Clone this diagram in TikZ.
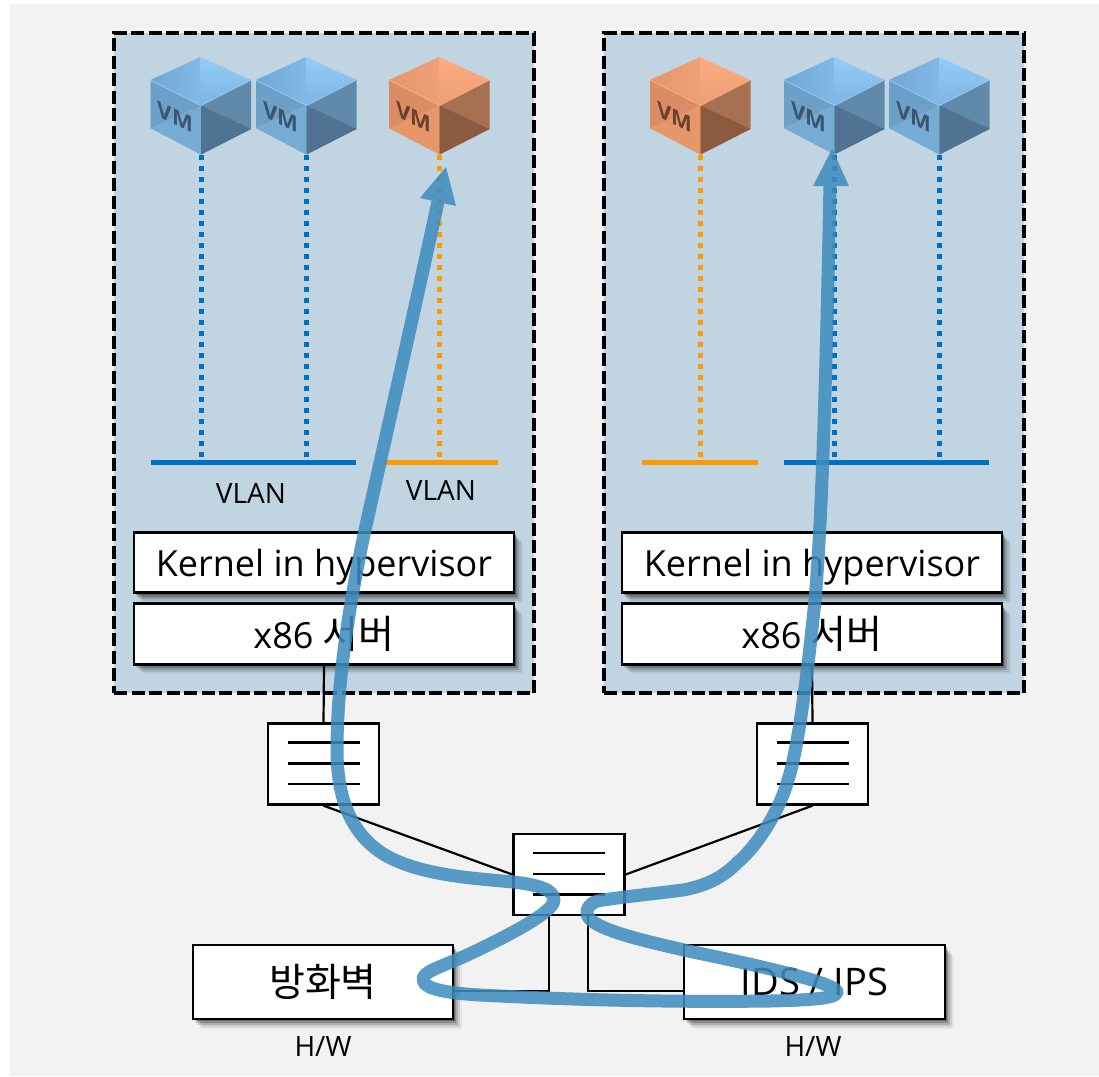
\documentclass[tikz,border=0pt]{standalone}
\usepackage{fontspec}
\setmainfont{Open Sans}
\newfontfamily\krfont{Noto Sans CJK KR}
\usetikzlibrary{shadows}
\definecolor{pagegray}{RGB}{242,242,242}
\definecolor{panelblue}{RGB}{193,212,225}
\definecolor{vlanblue}{RGB}{0,112,192}
\definecolor{vlanorange}{RGB}{255,153,0}
\definecolor{flowblue}{RGB}{62,140,190}
\definecolor{bTL}{RGB}{112,166,210}\definecolor{bTLb}{RGB}{130,185,232}\definecolor{bTR}{RGB}{148,204,248}\definecolor{bTRb}{RGB}{125,180,225}
\definecolor{bLU}{RGB}{108,160,200}\definecolor{bLL}{RGB}{118,172,212}
\definecolor{bRU}{RGB}{97,137,170}\definecolor{bRL}{RGB}{80,115,145}
\definecolor{bTX}{RGB}{60,85,110}
\definecolor{oTL}{RGB}{228,150,110}\definecolor{oTLb}{RGB}{240,160,118}\definecolor{oTR}{RGB}{252,172,128}\definecolor{oTRb}{RGB}{238,158,116}
\definecolor{oLU}{RGB}{220,140,100}\definecolor{oLL}{RGB}{230,150,105}
\definecolor{oRU}{RGB}{168,112,82}\definecolor{oRL}{RGB}{140,90,65}
\definecolor{oTX}{RGB}{105,65,45}
\tikzset{
  softshadow/.style={
    general shadow={shadow xshift=1.5pt,shadow yshift=-2pt,fill=black,fill opacity=.24,draw=none},
    general shadow={shadow xshift=3pt,shadow yshift=-4pt,fill=black,fill opacity=.20,draw=none},
    general shadow={shadow xshift=5pt,shadow yshift=-6pt,fill=black,fill opacity=.15,draw=none},
    general shadow={shadow xshift=7pt,shadow yshift=-8pt,fill=black,fill opacity=.10,draw=none},
    general shadow={shadow xshift=9pt,shadow yshift=-10pt,fill=black,fill opacity=.05,draw=none}},
  hostpanel/.style={draw=black,fill=panelblue,line width=3.8pt,dash pattern=on 13pt off 4.5pt,minimum width=420pt,minimum height=660pt,inner sep=0pt},
  layerbox/.style={draw=black,fill=white,line width=2.8pt,minimum width=380pt,minimum height=60.5pt,inner sep=0pt,font=\fontsize{36}{40}\selectfont,softshadow},
  hwbox/.style={draw=black,fill=white,line width=2.8pt,minimum height=74pt,inner sep=0pt,font=\fontsize{38}{44}\selectfont,softshadow},
  switchbox/.style={draw=black,fill=white,line width=2.3pt,minimum width=111pt,minimum height=81pt,inner sep=0pt},
  wire/.style={draw=black,line width=2.2pt},
  bars/.style={draw=black,line width=2.2pt},
  vlan/.style={line width=5pt},
  dots/.style={line width=5pt,dash pattern=on 5pt off 6pt},
  caption/.style={font=\fontsize{28}{32}\selectfont,inner sep=0pt},
  flow/.style={draw=flowblue,line width=13pt,line join=round},
  flowhead/.style={fill=flowblue,draw=none}
}
\newcommand{\vmcube}[4]{% x, y (top vertex), colour prefix, name
  \begin{scope}[shift={(#1,#2)}]
    \shade[left color=#3TL,right color=#3TLb] (0,0) -- (-50,23) -- (0.5,48.5) -- cycle;
    \shade[top color=#3TR,bottom color=#3TRb] (0,0) -- (50.5,23) -- (0.5,48.5) -- cycle;
    \fill[#3LU] (-50,23) -- (0.5,48.5) -- (0.5,97.5) -- (-50,71) -- cycle;
    \fill[#3LL] (-50,71) -- (0.5,48.5) -- (0.5,97.5) -- cycle;
    \fill[#3RU] (50.5,23) -- (0.5,48.5) -- (0.5,97.5) -- (50.5,72) -- cycle;
    \fill[#3RL] (50.5,72) -- (0.5,48.5) -- (0.5,97.5) -- cycle;
    \draw[#3TR,line width=.8pt] (-50,23) -- (0.5,48.5) -- (50.5,23);
    \node[yslant=-0.47,transform shape,text=#3TX,font=\fontsize{22}{24}\selectfont\bfseries,inner sep=0pt] (#4txt) at (-25,60) {VM};
    \coordinate (#4) at (0.5,97.5);
  \end{scope}}
\begin{document}
\begin{tikzpicture}[x=1pt,y=-1pt]
\useasboundingbox (0,0) rectangle (1099,1076);
\fill[white] (0,0) rectangle (1099,1076);
\fill[pagegray] (10,4) rectangle (1099,1076);
% panels
\node[hostpanel] (panelL) at (324,363) {};
\node[hostpanel] (panelR) at (814,363) {};
% cubes
\vmcube{200.5}{57}{b}{vma}
\vmcube{306}{57}{b}{vmb}
\vmcube{439}{57}{o}{vmc}
\vmcube{700}{57}{o}{vmd}
\vmcube{834}{57}{b}{vme}
\vmcube{939}{57}{b}{vmf}
% VLAN bars
\coordinate (vl1a) at (151,462); \coordinate (vl1b) at (356,462);
\coordinate (vl2a) at (384,462); \coordinate (vl2b) at (498,462);
\coordinate (vr1a) at (642,462); \coordinate (vr1b) at (758,462);
\coordinate (vr2a) at (784,462); \coordinate (vr2b) at (989,462);
\draw[vlan,vlanblue] (vl1a) -- (vl1b);
\draw[vlan,vlanorange] (vl2a) -- (vl2b);
\draw[vlan,vlanorange] (vr1a) -- (vr1b);
\draw[vlan,vlanblue] (vr2a) -- (vr2b);
\draw[dots,vlanblue] (vma) -- (vma |- vl1a);
\draw[dots,vlanblue] (vmb) -- (vmb |- vl1a);
\draw[dots,vlanorange] (vmc) -- (vmc |- vl2a);
\draw[dots,vlanorange] (vmd) -- (vmd |- vr1a);
\draw[dots,vlanblue] (vme) -- (vme |- vr2a);
\draw[dots,vlanblue] (vmf) -- (vmf |- vr2a);
\node[caption] (vlanA) at (251,493) {VLAN};
\node[caption] (vlanB) at (441,490) {VLAN};
% layers
\node[layerbox] (kernelL) at (324,562.5) {\raisebox{-13.5pt}[0pt][0pt]{Kernel in hypervisor}};
\node[layerbox] (serverL) at (324,634) {\raisebox{-14pt}[0pt][0pt]{x86 {\krfont\fontsize{39}{44}\selectfont 서버}}};
\node[layerbox] (kernelR) at (812,562.5) {\raisebox{-13.5pt}[0pt][0pt]{Kernel in hypervisor}};
\node[layerbox] (serverR) at (812,634) {\raisebox{-14pt}[0pt][0pt]{x86 {\krfont\fontsize{39}{44}\selectfont 서버}}};
% switches
\node[switchbox] (swL) at (323.5,764) {};
\node[switchbox] (swR) at (812.5,764) {};
\node[switchbox] (swC) at (569,874.5) {};
\foreach \s in {swL,swR,swC}{
  \foreach \d in {-21.5,-0.5,20}{
    \draw[bars] ([shift={(-36pt,-\d pt)}]\s.center) -- ([shift={(36pt,-\d pt)}]\s.center);
  }
}
% hardware
\node[hwbox,minimum width=260pt] (fw) at (323,982) {\krfont\fontsize{39}{44}\selectfont 방화벽};
\node[hwbox,minimum width=261pt] (ids) at (814.5,982) {IDS / IPS};
\node[caption] (hwA) at (323,1046) {H/W};
\node[caption] (hwB) at (813,1046) {H/W};
% wires
\draw[wire] (serverL.south) -- (swL.north);
\draw[wire] (serverR.south) -- (swR.north);
\draw[wire] (swL.south) -- (swC.west);
\draw[wire] (swR.south) -- (swC.east);
\coordinate (fwport) at (549,991);
\coordinate (idsport) at (588,991);
\draw[wire] (fw.east |- fwport) -- (fwport) -- (fwport |- swC.south);
\draw[wire] (ids.west |- idsport) -- (idsport) -- (idsport |- swC.south);
% flow
\coordinate (headL) at (446,167);
\coordinate (headR) at (832,149);
\begin{scope}[transparency group,opacity=.86]
\draw[flow] (438,202)
  .. controls (410,330) and (385,440) .. (365,530)
  .. controls (350,600) and (337,680) .. (337,750)
  .. controls (337,800) and (352,835) .. (385,855)
  .. controls (420,875) and (470,878) .. (513,882)
  .. controls (540,885) and (554,890) .. (554,900)
  .. controls (554,912) and (510,935) .. (463,957)
  .. controls (440,967) and (423,972) .. (423,979)
  .. controls (423,990) and (450,994) .. (500,996)
  .. controls (600,1001) and (700,1002) .. (770,1001)
  .. controls (815,1000) and (837,998) .. (837,992)
  .. controls (837,985) and (790,972) .. (693,952)
  .. controls (640,940) and (587,928) .. (587,913)
  .. controls (587,904) and (595,901) .. (603,900)
  .. controls (630,896) and (660,893) .. (683,890)
  .. controls (710,885) and (725,875) .. (737,863)
  .. controls (755,848) and (778,815) .. (788,780)
  .. controls (798,750) and (808,670) .. (815,600)
  .. controls (822,520) and (826,380) .. (830,185);
\fill[flowhead] (headL) -- (420,198) -- (456,206) -- cycle;
\fill[flowhead] (headR) -- (813,186) -- (849,186) -- cycle;
\end{scope}
\end{tikzpicture}
\end{document}
